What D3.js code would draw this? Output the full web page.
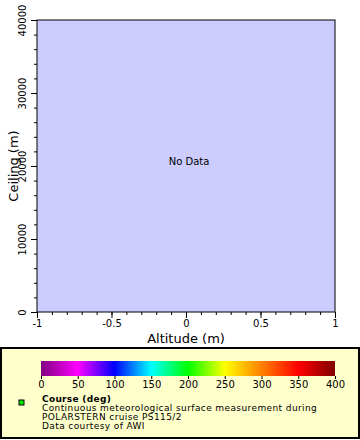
<!DOCTYPE html>
<html><head><meta charset="utf-8">
<script src="https://cdn.jsdelivr.net/npm/d3@7"></script>
<style>body{margin:0;background:#fff}svg{display:block;font-family:"DejaVu Sans",sans-serif}</style>
</head><body><svg id="c" width="360" height="440"></svg>
<script>
const xDomain = [-1, 1];
const yDomain = [0, 40000];
const xTicks = [-1, -0.5, 0, 0.5, 1];
const yTicks = [0, 10000, 20000, 30000, 40000];
const cbarTicks = [0, 50, 100, 150, 200, 250, 300, 350, 400];
const cbarStops = [0, 50, 100, 150, 200, 250, 300, 350, 400];
const cbarColors = ["#800080", "#ff00ff", "#0000ff", "#00ffff", "#00ff00", "#ffff00", "#ff8000", "#ff0000", "#800000"];
const legendTitle = "Course (deg)";
const legendLines = ["Continuous meteorological surface measurement during", "POLARSTERN cruise PS115/2", "Data courtesy of AWI"];
const xLabel = "Altitude (m)", yLabel = "Ceiling (m)", noData = "No Data";

const svg = d3.select("#c");
const L = 37, R = 335, T = 20, B = 312;
const x = d3.scaleLinear().domain(xDomain).range([L, R]);
const y = d3.scaleLinear().domain(yDomain).range([B, T]);

svg.append("rect").attr("x", L).attr("y", T).attr("width", R - L).attr("height", B - T)
  .attr("fill", "#ccccff").attr("stroke", "#000").attr("stroke-width", 1);

const xa = svg.append("g").attr("transform", `translate(0,${B})`);
xa.call(d3.axisBottom(x).tickValues(d3.range(-10, 11).map(d => d / 10)).tickSize(3).tickFormat(""));
xa.append("g").call(d3.axisBottom(x).tickValues(xTicks).tickSize(6).tickFormat(d => String(d)));
xa.selectAll(".domain").remove();
xa.selectAll("text").attr("font-size", 10).attr("font-family", "DejaVu Sans").attr("fill", "#000").attr("dy", "0.55em");

const ya = svg.append("g").attr("transform", `translate(${L},0)`);
ya.call(d3.axisLeft(y).tickValues(d3.range(0, 40001, 2000)).tickSize(3).tickFormat(""));
const yMaj = ya.append("g").call(d3.axisLeft(y).tickValues(yTicks).tickSize(6).tickFormat(d => String(d)));
ya.selectAll(".domain").remove();
yMaj.selectAll(".tick text").attr("font-size", 10).attr("font-family", "DejaVu Sans").attr("fill", "#000")
  .attr("x", 0).attr("y", 0).attr("dy", null)
  .attr("transform", "translate(-11,0) rotate(-90)").attr("text-anchor", "middle");

svg.append("text").attr("x", (L + R) / 2).attr("y", 343).attr("text-anchor", "middle")
  .attr("font-size", 13).text(xLabel);
svg.append("text").attr("transform", `translate(18,${(T + B) / 2}) rotate(-90)`).attr("text-anchor", "middle")
  .attr("font-size", 13).text(yLabel);
svg.append("text").attr("x", 189).attr("y", 165).attr("text-anchor", "middle")
  .attr("font-size", 10).text(noData);

// legend
svg.append("rect").attr("x", 1).attr("y", 348).attr("width", 358).attr("height", 90)
  .attr("fill", "#ffffcc").attr("stroke", "#000").attr("stroke-width", 2);
const c = d3.scaleLinear().domain([0, 400]).range([41, 335]);
const grad = svg.append("defs").append("linearGradient").attr("id", "g");
cbarStops.forEach((s, i) => grad.append("stop").attr("offset", s / 400).attr("stop-color", cbarColors[i]));
svg.append("rect").attr("x", c(0)).attr("y", 361).attr("width", c(400) - c(0)).attr("height", 15).attr("fill", "url(#g)");
const ca = svg.append("g").attr("transform", "translate(0,376)")
  .call(d3.axisBottom(c).tickValues(cbarTicks).tickSize(3).tickFormat(d => d));
ca.select(".domain").remove();
ca.selectAll("text").attr("font-size", 10).attr("font-family", "DejaVu Sans").attr("y", 5).attr("dy", "0.71em");

svg.append("rect").attr("x", 19).attr("y", 400).attr("width", 5).attr("height", 5)
  .attr("fill", "#00ee00").attr("stroke", "#000").attr("stroke-width", 1);
svg.append("text").attr("x", 42).attr("y", 402).attr("font-size", 9).attr("font-weight", "bold")
  .attr("letter-spacing", 0.3).text(legendTitle);
legendLines.forEach((t, i) => svg.append("text").attr("x", 42).attr("y", 411 + i * 9)
  .attr("font-size", 9).attr("letter-spacing", 0.4).text(t));
</script></body></html>
